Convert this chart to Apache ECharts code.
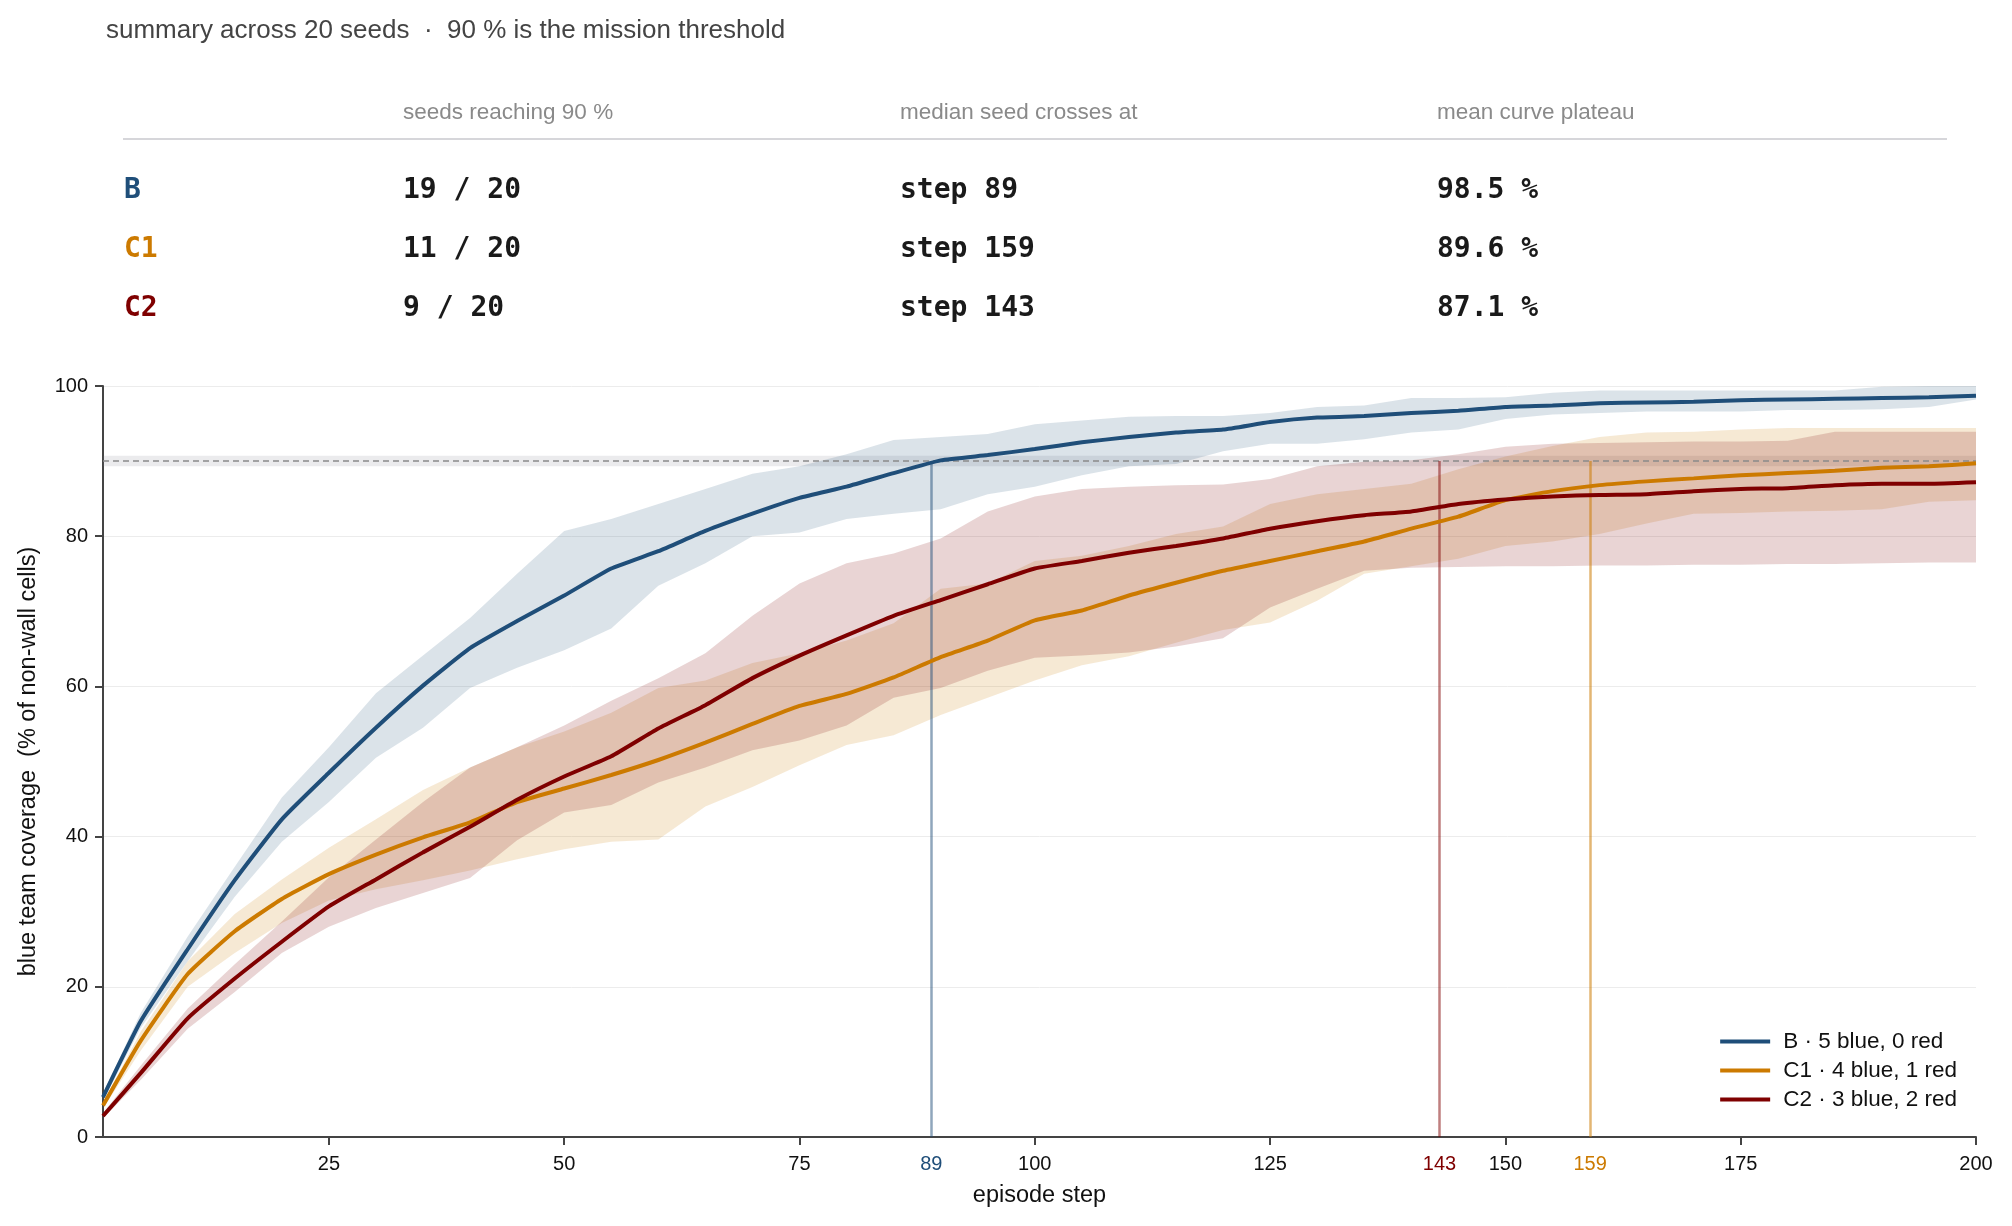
<!DOCTYPE html>
<html>
<head>
<meta charset="utf-8">
<title>coverage summary</title>
<script src="https://cdn.jsdelivr.net/npm/echarts@6/dist/echarts.min.js"></script>
<style>
  html, body { margin: 0; padding: 0; background: #fff; }
  #chart { width: 2012px; height: 1226px; }
</style>
</head>
<body>
<div id="chart"></div>
<script>
const steps = [1, 5, 10, 15, 20, 25, 30, 35, 40, 45, 50, 55, 60, 65, 70, 75, 80, 85, 90, 95, 100,
  105, 110, 115, 120, 125, 130, 135, 140, 145, 150, 155, 160, 165, 170, 175, 180, 185, 190, 195, 200];

// B : mean curve and seed band
const bMean = [5.3, 15.4, 25.0, 34.2, 42.3, 48.5, 54.5, 60.1, 65.1, 68.7, 72.1, 75.7, 78.0, 80.7, 83.0, 85.1, 86.6, 88.4, 90.1, 90.8, 91.6,
  92.5, 93.2, 93.8, 94.2, 95.2, 95.8, 96.0, 96.4, 96.7, 97.2, 97.4, 97.7, 97.8, 97.9, 98.1, 98.2, 98.3, 98.4, 98.5, 98.7];
const bLow = [4.8, 14.5, 23.4, 32.0, 39.3, 44.6, 50.5, 54.5, 59.8, 62.5, 64.8, 67.7, 73.4, 76.4, 80.0, 80.5, 82.3, 83.0, 83.6, 85.6, 86.6,
  88.1, 89.3, 89.6, 91.3, 92.3, 92.3, 92.9, 93.8, 94.2, 95.6, 96.2, 96.4, 96.6, 96.6, 96.6, 96.8, 96.8, 96.9, 97.2, 98.2];
const bHigh = [5.8, 16.5, 26.7, 36.0, 45.2, 51.9, 59.1, 64.1, 69.1, 75.0, 80.7, 82.3, 84.3, 86.3, 88.3, 89.3, 90.9, 92.8, 93.2, 93.6, 94.9,
  95.4, 95.9, 96.0, 96.0, 96.4, 97.2, 97.4, 98.4, 98.4, 98.5, 99.1, 99.4, 99.4, 99.4, 99.4, 99.4, 99.4, 99.9, 100, 100];

// C1
const c1Mean = [4.2, 12.8, 21.7, 27.4, 31.7, 35.0, 37.6, 39.9, 41.9, 44.6, 46.4, 48.2, 50.2, 52.5, 55.0, 57.4, 59.0, 61.2, 63.9, 66.1, 68.8,
  70.1, 72.1, 73.8, 75.4, 76.7, 78.0, 79.3, 81.0, 82.6, 84.8, 86.0, 86.8, 87.3, 87.7, 88.1, 88.4, 88.7, 89.1, 89.3, 89.7];
const c1Low = [3.8, 11.5, 20.0, 24.5, 28.5, 31.5, 33.0, 34.2, 35.5, 37.0, 38.3, 39.3, 39.6, 44.0, 46.6, 49.5, 52.2, 53.5, 56.2, 58.5, 60.8,
  62.8, 64.0, 65.8, 67.5, 68.5, 71.4, 75.0, 76.0, 77.0, 78.7, 79.3, 80.3, 81.7, 83.0, 83.1, 83.3, 83.4, 83.6, 84.6, 84.8];
const c1High = [4.6, 14.0, 23.4, 29.7, 34.3, 38.5, 42.3, 46.2, 49.2, 51.9, 54.0, 56.5, 59.8, 60.8, 63.1, 64.4, 66.1, 68.4, 73.0, 73.7, 76.7,
  77.4, 78.7, 80.3, 81.3, 84.3, 85.6, 86.3, 87.0, 88.9, 90.6, 92.0, 93.2, 93.8, 93.9, 94.2, 94.4, 94.4, 94.4, 94.4, 94.4];

// C2
const c2Mean = [2.8, 8.5, 15.8, 21.1, 26.0, 30.7, 34.3, 37.9, 41.3, 44.9, 48.0, 50.7, 54.4, 57.5, 61.1, 64.1, 66.8, 69.4, 71.5, 73.6, 75.7,
  76.7, 77.8, 78.7, 79.7, 81.0, 82.0, 82.8, 83.3, 84.3, 84.9, 85.3, 85.5, 85.6, 86.0, 86.3, 86.4, 86.8, 87.0, 87.0, 87.2];
const c2Low = [2.5, 7.6, 14.4, 19.3, 24.5, 28.0, 30.5, 32.5, 34.5, 39.5, 43.2, 44.2, 47.2, 49.2, 51.5, 52.8, 54.8, 58.5, 59.8, 62.1, 63.8,
  64.1, 64.5, 65.3, 66.4, 70.5, 73.0, 75.4, 75.8, 75.9, 76.0, 76.0, 76.1, 76.1, 76.2, 76.2, 76.3, 76.3, 76.4, 76.5, 76.5];
const c2High = [3.2, 9.5, 17.1, 23.0, 28.7, 34.6, 39.6, 44.6, 49.2, 51.9, 54.8, 58.1, 61.1, 64.4, 69.4, 73.7, 76.4, 77.7, 79.7, 83.3, 85.3,
  86.3, 86.6, 86.8, 86.9, 87.6, 89.3, 89.9, 90.1, 90.9, 91.9, 92.3, 92.4, 92.5, 92.6, 92.6, 92.7, 93.9, 93.9, 93.9, 93.9];

// summary table
const teams = ['B', 'C1', 'C2'];
const teamNames = ['B · 5 blue, 0 red', 'C1 · 4 blue, 1 red', 'C2 · 3 blue, 2 red'];
const tableHeaders = ['seeds reaching 90 %', 'median seed crosses at', 'mean curve plateau'];
const seedsReaching = ['19 / 20', '11 / 20', '9 / 20'];
const medianCross = [89, 159, 143];
const plateau = [98.5, 89.6, 87.1];

const xTicks = [25, 50, 75, 100, 125, 150, 175, 200];
const threshold = 90;

const colors = ['#1f4e79', '#cc7a00', '#7f0000'];
const bandColors = ['rgba(31,78,121,0.16)', 'rgba(204,122,0,0.17)', 'rgba(127,0,0,0.17)'];
const markerColors = ['rgba(31,78,121,0.5)', 'rgba(204,122,0,0.55)', 'rgba(127,0,0,0.5)'];

const means = [bMean, c1Mean, c2Mean];
const lows = [bLow, c1Low, c2Low];
const highs = [bHigh, c1High, c2High];

const SANS = '"Liberation Sans", Arial, Helvetica, sans-serif';
const MONO = '"DejaVu Sans Mono", monospace';

const chart = echarts.init(document.getElementById('chart'));

// seed band as one polygon: upper edge forward, lower edge backward
function bandSeries(i) {
  return {
    type: 'custom', name: teams[i] + ' band', silent: true, z: 1,
    data: [[steps[0], lows[i][0]]],
    renderItem: function (params, api) {
      let pts = [];
      for (let k = 0; k < steps.length; k++) pts.push(api.coord([steps[k], highs[i][k]]));
      for (let k = steps.length - 1; k >= 0; k--) pts.push(api.coord([steps[k], lows[i][k]]));
      return { type: 'polygon', shape: { points: pts }, style: { fill: bandColors[i] } };
    }
  };
}

let series = [];
teams.forEach(function (t, i) { series.push(bandSeries(i)); });

teams.forEach(function (t, i) {
  let markData = [
    [{ coord: [medianCross[i], 0], lineStyle: { color: markerColors[i], width: 2.5, type: 'solid' } },
     { coord: [medianCross[i], threshold] }]
  ];
  let s = {
    name: teamNames[i], type: 'line', symbol: 'none', z: 5,
    smooth: 0.15,
    lineStyle: { color: colors[i], width: 4 },
    itemStyle: { color: colors[i] },
    data: steps.map(function (st, k) { return [st, means[i][k]]; }),
    markLine: { silent: true, symbol: 'none', label: { show: false }, data: markData }
  };
  if (i === 0) {
    // mission threshold: dashed line + faint band
    s.markLine.data.push({ yAxis: threshold, lineStyle: { color: '#8a8a8a', width: 1.6, type: [6, 4] } });
    s.markArea = {
      silent: true,
      itemStyle: { color: 'rgba(120,120,135,0.15)' },
      data: [[{ yAxis: threshold - 0.7 }, { yAxis: threshold + 0.7 }]]
    };
  }
  series.push(s);
});

// coloured labels for the median crossing steps on the x axis
let rich = {};
medianCross.forEach(function (v, i) {
  rich['m' + v] = { color: colors[i], fontSize: 20, fontFamily: SANS };
});
const labelValues = xTicks.concat(medianCross).sort(function (a, b) { return a - b; });

// summary table drawn as graphic text
const colX = [403, 900, 1437];
const rowY = [191, 250, 309];
let graphics = [];
tableHeaders.forEach(function (h, j) {
  graphics.push({ type: 'text', x: colX[j], y: 113,
    style: { text: h, fill: '#8a8a8a', fontSize: 22.5, fontFamily: SANS, verticalAlign: 'middle' } });
});
graphics.push({ type: 'line', shape: { x1: 123, y1: 139, x2: 1947, y2: 139 },
  style: { stroke: '#d6d6da', lineWidth: 2 } });
teams.forEach(function (t, i) {
  const vals = [seedsReaching[i], 'step ' + medianCross[i], plateau[i].toFixed(1) + ' %'];
  graphics.push({ type: 'text', x: 124, y: rowY[i],
    style: { text: t, fill: colors[i], fontSize: 28, fontWeight: 'bold', fontFamily: MONO, verticalAlign: 'middle' } });
  vals.forEach(function (v, j) {
    graphics.push({ type: 'text', x: colX[j], y: rowY[i],
      style: { text: v, fill: '#1a1a1a', fontSize: 28, fontWeight: 'bold', fontFamily: MONO, verticalAlign: 'middle' } });
  });
});

const option = {
  animation: false,
  backgroundColor: '#ffffff',
  title: {
    text: 'summary across 20 seeds  ·  90 % is the mission threshold',
    left: 101, top: 13,
    textStyle: { fontSize: 26, fontWeight: 'normal', color: '#444', fontFamily: SANS }
  },
  graphic: graphics,
  grid: { left: 103, right: 36, top: 386, bottom: 89, containLabel: false },
  legend: {
    data: teamNames,
    orient: 'vertical',
    right: 50, top: 1025,
    icon: 'rect', itemWidth: 50, itemHeight: 4, itemGap: 6,
    textStyle: { fontSize: 22.5, color: '#111', fontFamily: SANS, padding: [0, 0, 0, 8] }
  },
  xAxis: {
    type: 'value', min: 1, max: 200,
    name: 'episode step', nameLocation: 'middle', nameGap: 47,
    nameTextStyle: { fontSize: 23.5, color: '#111', fontFamily: SANS },
    axisLine: { show: true, lineStyle: { color: '#444', width: 2 } },
    axisTick: { show: true, length: 8, customValues: xTicks, lineStyle: { color: '#444', width: 2 } },
    axisLabel: {
      customValues: labelValues, margin: 17, fontSize: 20, color: '#111', fontFamily: SANS,
      formatter: function (v) { return medianCross.indexOf(v) >= 0 ? '{m' + v + '|' + v + '}' : String(v); },
      rich: rich
    },
    splitLine: { show: false }
  },
  yAxis: {
    type: 'value', min: 0, max: 100, interval: 20,
    name: 'blue team coverage  (% of non-wall cells)', nameLocation: 'middle', nameGap: 62,
    nameTextStyle: { fontSize: 23.5, color: '#111', fontFamily: SANS },
    axisLine: { show: true, lineStyle: { color: '#444', width: 2 } },
    axisTick: { show: true, length: 8, lineStyle: { color: '#444', width: 2 } },
    axisLabel: { fontSize: 20, color: '#111', margin: 15, fontFamily: SANS },
    splitLine: { show: true, lineStyle: { color: '#ececec', width: 1 } }
  },
  series: series
};

chart.setOption(option);
</script>
</body>
</html>
